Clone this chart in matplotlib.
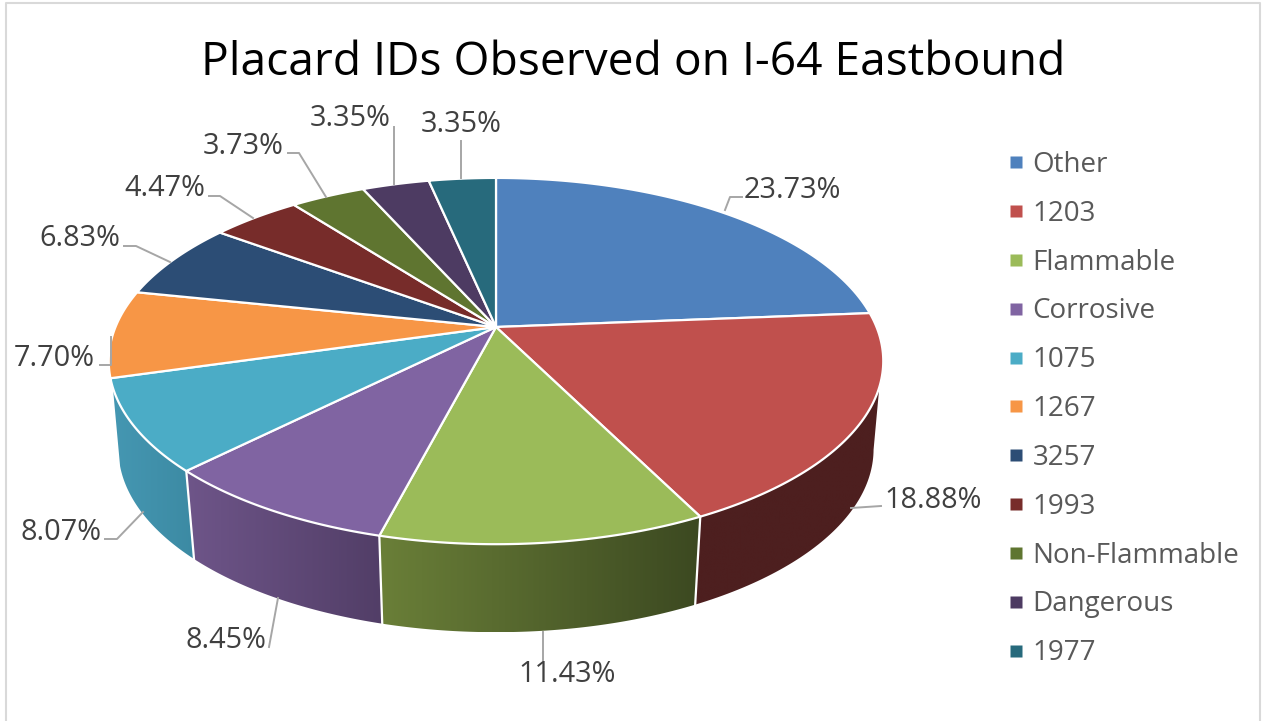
import numpy as np
import matplotlib
matplotlib.use('Agg')
import matplotlib.pyplot as plt
from matplotlib.patches import Polygon
from matplotlib.lines import Line2D
from matplotlib.colors import LinearSegmentedColormap

plt.rcParams['font.family'] = ['Open Sans', 'DejaVu Sans']

categorias = ['Other', '1203', 'Flammable', 'Corrosive', '1075', '1267', '3257',
              '1993', 'Non-Flammable', 'Dangerous', '1977']
valores = [23.73, 18.88, 11.43, 8.45, 8.07, 7.70, 6.83, 4.47, 3.73, 3.35, 3.35]
rotulos = ['23.73%', '18.88%', '11.43%', '8.45%', '8.07%', '7.70%', '6.83%',
           '4.47%', '3.73%', '3.35%', '3.35%']
cores = ['#4F81BD', '#C0504D', '#9BBB59', '#8064A2', '#4BACC6', '#F79646',
         '#2C4D75', '#772C2A', '#5F7530', '#4D3B62', '#276A7C']

# cores da lateral (esquerda, direita)
lateral = {0: ('#4d1f1f', '#4d1f1f'), 1: ('#4d1f1f', '#4d1f1f'), 2: ('#6a7f38', '#3c4921'),
           3: ('#6e5589', '#523e67'), 4: ('#4597b2', '#3c8aa3'), 5: ('#4597b2', '#3c8aa3')}

# posicao dos rotulos e das linhas de chamada, em pixels
pos_rotulos = [(792, 190), (933, 501), (567, 674), (226, 640), (61, 532), (54, 358),
               (80, 239), (165, 189), (243, 146), (350, 119), (461, 124)]
chamadas = [[(725, 210), (730, 197), (742, 197)],
            [(851, 508), (881, 506)],
            [(543, 632), (543, 660)],
            [(278, 598), (269, 647)],
            [(143, 512), (117, 539), (105, 539)],
            [(111, 337), (111, 365), (100, 365)],
            [(170, 262), (136, 246), (124, 246)],
            [(253, 218), (220, 196), (209, 196)],
            [(326, 197), (299, 153), (288, 153)],
            [(394, 184), (394, 127)],
            [(461, 178), (461, 141)]]

cx, cy = 496, 327
a, b, k = 380.5, 176.8, 0.186
altura = 88
escala = 0.975
y_meio = 361


def topo(t):
    # circulo em perspectiva; t em graus a partir do topo, sentido horario
    u = np.sin(np.radians(t))
    v = -np.cos(np.radians(t))
    w = 1 - k*v
    return cx + a*u/w, cy + b*v/w


def base(t):
    x, y = topo(t)
    return cx + escala*(x - cx), y + altura


fig = plt.figure(figsize=(12.67, 7.21), dpi=100)
ax = fig.add_axes([0, 0, 1, 1])
ax.set_xlim(0, 1267)
ax.set_ylim(721, 0)
ax.axis('off')

# moldura
ax.plot([5.5, 5.5, 1259.5, 1259.5], [721, 3, 3, 721], color='#d9d9d9', lw=1.5, zorder=1)

limites = np.cumsum([0] + valores)/np.sum(valores)*360

# laterais
for i in range(len(valores)):
    if i not in lateral:
        continue
    t = np.linspace(limites[i], limites[i+1], 80)
    xt, yt = topo(t)
    xb, yb = base(t)
    ok_t = yt >= y_meio + 26
    ok_b = yb >= y_meio + altura
    if not ok_t.any():
        continue
    xs = np.concatenate([xt[ok_t], xb[ok_b][::-1]])
    ys = np.concatenate([yt[ok_t], yb[ok_b][::-1]])
    pol = Polygon(np.column_stack([xs, ys]), closed=True, fc='none', ec='none')
    ax.add_patch(pol)
    cmap = LinearSegmentedColormap.from_list('l%d' % i, lateral[i])
    im = ax.imshow(np.linspace(0, 1, 128).reshape(1, -1), cmap=cmap, aspect='auto',
                   extent=[xs.min(), xs.max(), ys.max(), ys.min()], zorder=2)
    im.set_clip_path(pol)
ax.set_xlim(0, 1267)
ax.set_ylim(721, 0)

# divisoes brancas da lateral
for i in range(1, 5):
    x0, y0 = topo(limites[i])
    x1, y1 = base(limites[i])
    ax.plot([x0, x1], [y0, y1], color='white', lw=1.6, zorder=3)

# fatias do topo
for i in range(len(valores)):
    t = np.linspace(limites[i], limites[i+1], 80)
    xt, yt = topo(t)
    xs = np.concatenate([[cx], xt])
    ys = np.concatenate([[cy], yt])
    ax.add_patch(Polygon(np.column_stack([xs, ys]), closed=True, fc=cores[i], ec='white',
                         lw=1.6, zorder=4, joinstyle='round'))

# rotulos
for i in range(len(rotulos)):
    pts = np.array(chamadas[i])
    ax.plot(pts[:, 0], pts[:, 1], color='#a6a6a6', lw=1.4, zorder=5)
    ax.text(pos_rotulos[i][0], pos_rotulos[i][1], rotulos[i], fontsize=20.8, color='#404040',
            ha='center', va='center', zorder=6)

ax.text(633, 63, 'Placard IDs Observed on I-64 Eastbound', fontsize=33.2, color='black',
        ha='center', va='center')

itens = [Line2D([], [], ls='none', marker='s', ms=9, mfc=c, mec='none') for c in cores]
ax.legend(itens, categorias, loc='upper left', bbox_to_anchor=(1000.5, 151),
          bbox_transform=ax.transData, frameon=False, fontsize=20, labelcolor='#595959',
          labelspacing=0.75, handletextpad=0.0, handlelength=1.15, borderpad=0, borderaxespad=0)

fig.savefig('out.png', dpi=100)
